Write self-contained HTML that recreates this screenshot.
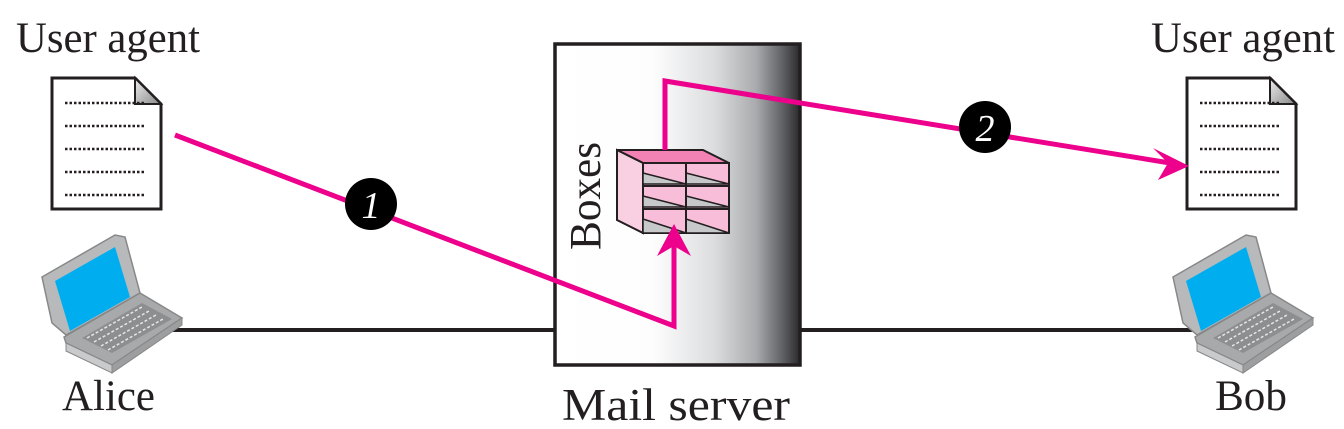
<!DOCTYPE html>
<html><head><meta charset="utf-8"><style>
html,body{margin:0;padding:0;background:#fff;}
svg{display:block;}
text{font-family:"Liberation Serif",serif;fill:#231f20;}
</style></head><body>
<svg width="1344" height="429" viewBox="0 0 1344 429" xmlns="http://www.w3.org/2000/svg">
<defs>
<linearGradient id="srv" x1="0" x2="1" y1="0" y2="0">
<stop offset="0" stop-color="#fff"/>
<stop offset="0.4" stop-color="#fdfdfd"/>
<stop offset="0.65" stop-color="#dcddde"/>
<stop offset="0.82" stop-color="#a9abae"/>
<stop offset="0.94" stop-color="#58595c"/>
<stop offset="1" stop-color="#2a2a2c"/>
</linearGradient>
<linearGradient id="fold" x1="0" y1="0" x2="1" y2="1">
<stop offset="0" stop-color="#eee"/><stop offset="1" stop-color="#888"/>
</linearGradient>
<g id="doc">
<path d="M0,0 H83 L109,26 V131 H0 Z" fill="#fff" stroke="#231f20" stroke-width="3"/>
<path d="M83,0 V26 H109 Z" fill="url(#fold)" stroke="#231f20" stroke-width="2"/>
<g stroke="#231f20" stroke-width="2.5" stroke-dasharray="2.5,2">
<line x1="13" y1="25" x2="94" y2="25"/><line x1="13" y1="48" x2="94" y2="48"/>
<line x1="13" y1="71" x2="94" y2="71"/><line x1="13" y1="94" x2="94" y2="94"/>
<line x1="13" y1="117" x2="94" y2="117"/>
</g>
</g>
<g id="lap">
<polygon points="0,42 73,0 83,2 98,58 24,100 10,88" fill="#b8b9bb" stroke="#888" stroke-width="1.5"/>
<polygon points="13,46 73,12 88,62 28,96" fill="#00aeef"/>
<polygon points="22,102 98,58 140,83 70,130 24,108" fill="#a8a9ab" stroke="#888" stroke-width="1.5"/>
<polygon points="40,103 100,68 130,84 70,118" fill="#8d8e90"/>
<g stroke="#e6e6e6" stroke-width="1.5" stroke-dasharray="3,2">
<line x1="45" y1="103" x2="100" y2="72"/><line x1="52" y1="107" x2="107" y2="76"/>
<line x1="59" y1="111" x2="114" y2="80"/><line x1="66" y1="115" x2="121" y2="84"/>
</g>
<polygon points="24,108 70,130 70,138 24,116" fill="#c9cacc" stroke="#888" stroke-width="1"/>
<polygon points="70,130 140,83 140,90 70,138" fill="#9d9ea0" stroke="#888" stroke-width="1"/>
</g>
</defs>

<line x1="160" y1="330" x2="556" y2="330" stroke="#231f20" stroke-width="4"/>
<line x1="800" y1="330" x2="1200" y2="330" stroke="#231f20" stroke-width="4"/>

<rect x="555" y="44" width="245" height="321" fill="url(#srv)" stroke="#231f20" stroke-width="3.5"/>

<polygon points="617,150 703,150 729,163 643,163" fill="#f282b4" stroke="#231f20" stroke-width="2"/>
<polygon points="617,150 643,163 643,233 617,220" fill="#f9d0e2" stroke="#231f20" stroke-width="2"/>
<rect x="643" y="163" width="86" height="70" fill="#f8bdd8" stroke="#231f20" stroke-width="2"/>
<g fill="#c7c8ca" stroke="#231f20" stroke-width="1.5">
<polygon points="643,173 686,184 643,184"/><polygon points="686,173 729,184 686,184"/>
<polygon points="643,196 686,207 643,207"/><polygon points="686,196 729,207 686,207"/>
<polygon points="643,219 686,233 643,233"/><polygon points="686,219 729,233 686,233"/>
</g>
<g stroke="#231f20" stroke-width="2">
<line x1="686" y1="163" x2="686" y2="233"/>
<line x1="643" y1="186" x2="729" y2="186"/><line x1="643" y1="209" x2="729" y2="209"/>
</g>
<text transform="translate(600,196) rotate(-90)" font-size="44" text-anchor="middle" textLength="108" lengthAdjust="spacingAndGlyphs">Boxes</text>

<use href="#doc" x="52" y="78"/>
<use href="#doc" x="1187" y="78"/>

<use href="#lap" x="42" y="235"/>
<use href="#lap" x="1173" y="235"/>

<polyline points="175,135 674,326 674,240" fill="none" stroke="#ec008c" stroke-width="5"/>
<polygon points="674,224 657,256 674,246 691,256" fill="#ec008c"/>
<polyline points="665,150 665,81 1170,163" fill="none" stroke="#ec008c" stroke-width="5"/>
<polygon points="1189,166 1153,148 1168,163 1158,180" fill="#ec008c"/>

<circle cx="371" cy="204" r="26" fill="#000"/>
<text x="371" y="218" font-size="38" font-style="italic" text-anchor="middle" style="fill:#fff">1</text>
<circle cx="985" cy="127" r="26" fill="#000"/>
<text x="985" y="141" font-size="38" font-style="italic" text-anchor="middle" style="fill:#fff">2</text>

<text x="16" y="52" font-size="43" textLength="184" lengthAdjust="spacingAndGlyphs">User agent</text>
<text x="1151" y="52" font-size="43" textLength="184" lengthAdjust="spacingAndGlyphs">User agent</text>
<text x="62" y="410" font-size="43" textLength="93" lengthAdjust="spacingAndGlyphs">Alice</text>
<text x="1215" y="410" font-size="43" textLength="72" lengthAdjust="spacingAndGlyphs">Bob</text>
<text x="562" y="420" font-size="45" textLength="228" lengthAdjust="spacingAndGlyphs">Mail server</text>
</svg>
</body></html>
